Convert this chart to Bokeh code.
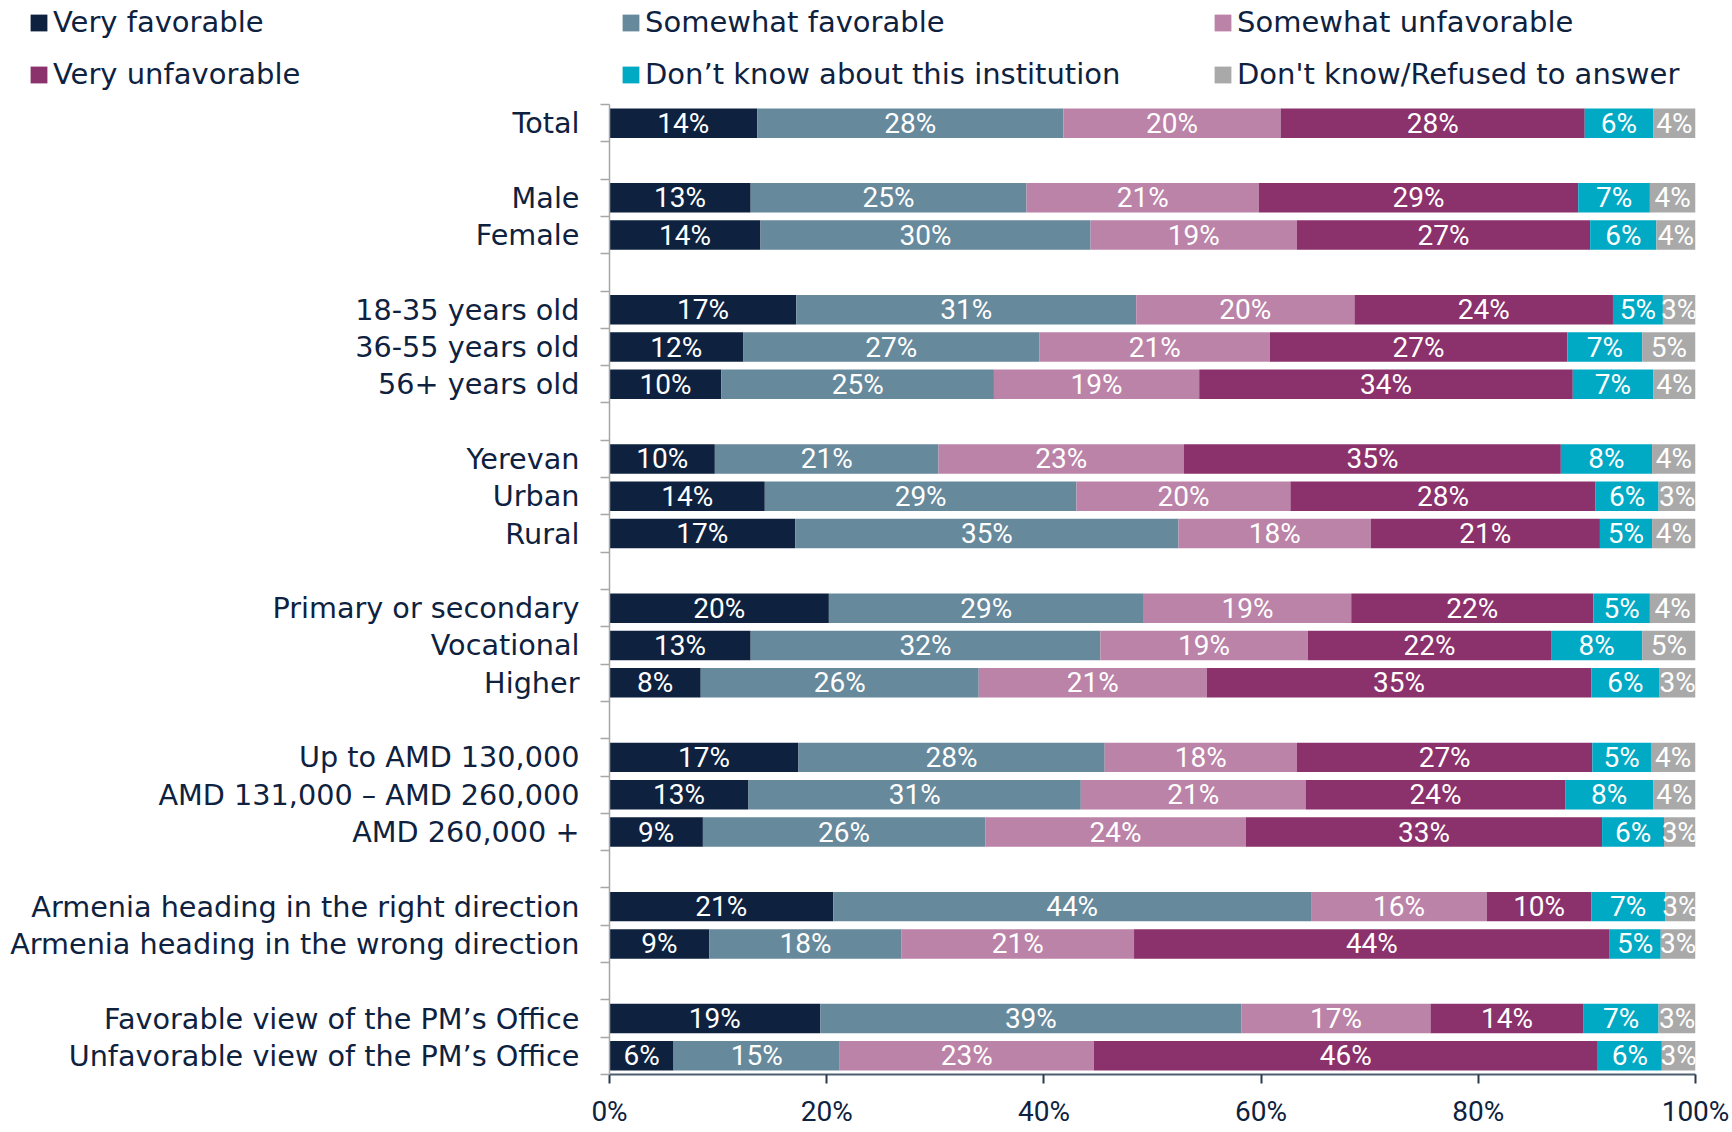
from bokeh.plotting import figure
from bokeh.models import ColumnDataSource, Range1d, FixedTicker, Legend, LegendItem
from bokeh.layouts import column
from bokeh.core.properties import value
from bokeh.embed import file_html
from bokeh.resources import INLINE

# ---------------- data ----------------
categories = [
    "Total",
    "Male", "Female",
    "18-35 years old", "36-55 years old", "56+ years old",
    "Yerevan", "Urban", "Rural",
    "Primary or secondary", "Vocational", "Higher",
    "Up to AMD 130,000", "AMD 131,000 \u2013 AMD 260,000", "AMD 260,000 +",
    "Armenia heading in the right direction", "Armenia heading in the wrong direction",
    "Favorable view of the PM\u2019s Office", "Unfavorable view of the PM\u2019s Office",
]
group_sizes = [1, 2, 3, 3, 3, 3, 2, 2]

series_names = [
    "Very favorable",
    "Somewhat favorable",
    "Somewhat unfavorable",
    "Very unfavorable",
    "Don\u2019t know about this institution",
    "Don't know/Refused to answer",
]

very_favorable = [13.6, 13.0, 13.9, 17.2, 12.3, 10.3, 9.7, 14.3, 17.1, 20.2, 13.0, 8.4, 17.4, 12.8, 8.6, 20.6, 9.2, 19.4, 5.9]
somewhat_favorable = [28.2, 25.4, 30.4, 31.3, 27.3, 25.1, 20.6, 28.7, 35.3, 29.0, 32.2, 25.6, 28.2, 30.6, 26.0, 44.0, 17.7, 38.8, 15.3]
somewhat_unfavorable = [20.0, 21.4, 19.0, 20.1, 21.2, 18.9, 22.6, 19.7, 17.7, 19.1, 19.1, 21.0, 17.7, 20.7, 24.0, 16.2, 21.4, 17.4, 23.4]
very_unfavorable = [28.0, 29.4, 27.0, 23.8, 27.4, 34.4, 34.7, 28.1, 21.1, 22.3, 22.4, 35.4, 27.2, 23.9, 32.8, 9.6, 43.8, 14.1, 46.4]
dont_know_institution = [6.3, 6.6, 6.1, 4.6, 6.9, 7.4, 8.4, 5.8, 4.8, 5.2, 8.4, 6.3, 5.4, 8.1, 5.7, 6.8, 4.7, 6.9, 5.9]
refused = [3.9, 4.2, 3.6, 3.0, 4.9, 3.9, 4.0, 3.4, 4.0, 4.2, 4.9, 3.3, 4.1, 3.9, 2.9, 2.8, 3.2, 3.4, 3.1]

x_ticks = [0, 20, 40, 60, 80, 100]

colors = ["#0E2240", "#67899C", "#BB83A8", "#8B316C", "#00AAC5", "#A9A9A9"]
navy = "#0E2240"

# ---------------- category slots (blank slot between groups) ----------------
ypos = []
pos = 0
for size in group_sizes:
    for _ in range(size):
        ypos.append(pos)
        pos += 1
    pos += 1
n_slots = ypos[-1] + 1
boundaries = [i - 0.5 for i in range(n_slots + 1)]

keys = ["vf", "sf", "su", "vu", "dk", "rf"]
series = [very_favorable, somewhat_favorable, somewhat_unfavorable,
          very_unfavorable, dont_know_institution, refused]

source = ColumnDataSource(dict(y=ypos, **{k: v for k, v in zip(keys, series)}))

lx, ly, lt = [], [], []
cum = [0.0] * len(categories)
for vals in series:
    for i, v in enumerate(vals):
        lx.append(cum[i] + v / 2.0)
        ly.append(ypos[i])
        lt.append(f"{round(v)}%")
        cum[i] += v
label_source = ColumnDataSource(dict(x=lx, y=ly, text=lt))

# ---------------- sizes ----------------
W = 1730
LEG_H = 92
MAIN_H = 1130 - LEG_H

# ---------------- legend figure ----------------
lf = figure(width=W, height=LEG_H, x_range=Range1d(0, W), y_range=Range1d(0, LEG_H),
            output_backend="svg", toolbar_location=None,
            min_border_left=0, min_border_right=0, min_border_top=0, min_border_bottom=0)
lf.frame_align = False
lf.axis.visible = False
lf.xgrid.visible = False
lf.ygrid.visible = False
lf.outline_line_color = None

items = []
for name, c in zip(series_names, colors):
    # swatch renderer (its only bar lies outside the visible range)
    r = lf.hbar(y=[-500], left=[0], right=[1], height=1, color=c, line_color=None)
    items.append(LegendItem(label=name, renderers=[r]))

leg = Legend(items=items, orientation="horizontal", ncols=3,
             glyph_width=21, glyph_height=21, label_standoff=4,
             spacing=18, label_width=549, label_height=33,
             padding=0, margin=0, border_line_color=None, background_fill_alpha=0,
             label_text_font="DejaVu Sans", label_text_font_size="29px",
             label_text_color=navy, location=(28, 1))
lf.add_layout(leg, "center")

# ---------------- main figure ----------------
p = figure(
    width=W, height=MAIN_H,
    x_range=Range1d(0, 100), y_range=Range1d(n_slots - 0.5, -0.5),
    output_backend="svg", toolbar_location=None,
    min_border_left=609, min_border_right=W - 609 - 1086,
    min_border_top=12, min_border_bottom=MAIN_H - 12 - 974,
)
p.frame_align = False
p.outline_line_color = None
p.xgrid.visible = False
p.ygrid.visible = False

p.hbar_stack(keys, y="y", height=0.79, color=colors, line_color=None, source=source)

p.text(x="x", y="y", text="text", source=label_source,
       text_font=value("Roboto"), text_font_size="28px",
       text_color="white", text_align="center", text_baseline="middle")

xa = p.xaxis[0]
xa.ticker = FixedTicker(ticks=x_ticks, minor_ticks=[])
xa.major_label_overrides = {t: f"{t}%" for t in x_ticks}
xa.axis_line_color = "#4D5E70"
xa.axis_line_width = 2
xa.major_tick_line_color = "#2B3B4D"
xa.major_tick_line_width = 2
xa.major_tick_in = 0
xa.major_tick_out = 9
xa.minor_tick_line_color = None
xa.major_label_text_font = "Roboto"
xa.major_label_text_font_size = "28px"
xa.major_label_text_color = navy
xa.major_label_standoff = 11

ya = p.yaxis[0]
ya.ticker = FixedTicker(ticks=ypos, minor_ticks=boundaries)
ya.major_label_overrides = {y: c for y, c in zip(ypos, categories)}
ya.axis_line_color = "#A6A6A6"
ya.axis_line_width = 1.5
ya.major_tick_line_color = None
ya.major_tick_in = 0
ya.major_tick_out = 0
ya.minor_tick_line_color = "#A6A6A6"
ya.minor_tick_line_width = 1.5
ya.minor_tick_in = 0
ya.minor_tick_out = 9
ya.major_label_text_font = "DejaVu Sans"
ya.major_label_text_font_size = "28.7px"
ya.major_label_text_color = navy
ya.major_label_standoff = 21

layout = column(lf, p, spacing=0)
open("out.html", "w").write(file_html(layout, INLINE))
